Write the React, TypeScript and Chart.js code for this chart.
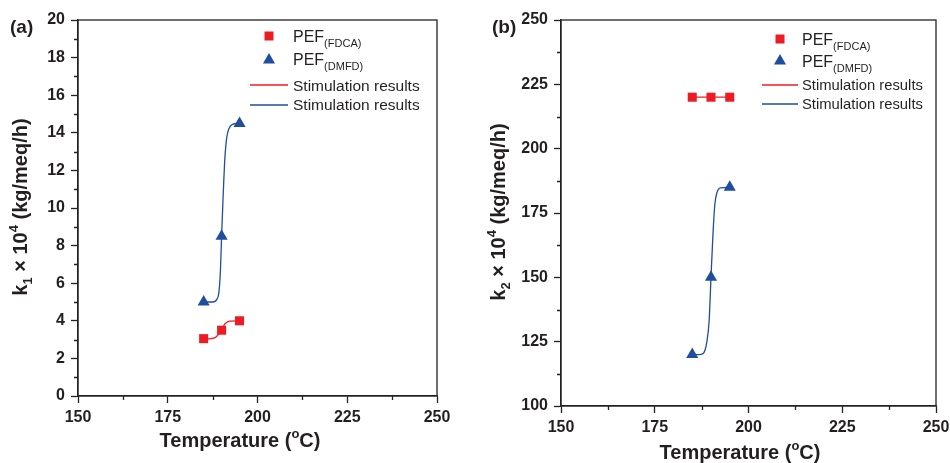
import React, { useEffect, useRef } from 'react';
import { Chart, registerables } from 'chart.js';
Chart.register(...registerables);

// ---------- data ----------
const temperatures = [185, 190, 195];
const k1FDCA = [3.05, 3.5, 4.0];
const k1DMFD = [5.0, 8.5, 14.5];
const k2FDCA = [220, 220, 220];
const k2DMFD = [120, 150, 185];

// simulation curves
const k1FDCASimT = [185, 187, 188.3, 189, 190, 190.6, 191.3, 192.3, 195];
const k1FDCASimV = [3.02, 3.05, 3.12, 3.25, 3.5, 3.75, 3.9, 3.98, 4.0];
const k1DMFDSimT = [185, 187.5, 188.7, 189.3, 189.7, 190, 190.4, 190.9, 191.4, 192, 193, 195];
const k1DMFDSimV = [5.0, 5.0, 5.15, 5.6, 6.8, 8.5, 10.5, 12.6, 13.7, 14.2, 14.45, 14.5];
const k2FDCASimT = [185, 195];
const k2FDCASimV = [220, 220];
const k2DMFDSimT = [185, 187, 188, 188.9, 189.5, 190, 190.5, 191, 191.6, 192.5, 195];
const k2DMFDSimV = [120, 120, 120.5, 125, 133, 150, 166, 178, 183, 184.8, 185];

const xTicks = [150, 175, 200, 225, 250];
const xMinorTicks = [162.5, 187.5, 212.5, 237.5];
const k1Ticks = [0, 2, 4, 6, 8, 10, 12, 14, 16, 18, 20];
const k1MinorTicks = [1, 3, 5, 7, 9, 11, 13, 15, 17, 19];
const k2Ticks = [100, 125, 150, 175, 200, 225, 250];
const k2MinorTicks = [112.5, 137.5, 162.5, 187.5, 212.5, 237.5];

const legendLabels = ['PEF', '(FDCA)', 'PEF', '(DMFD)', 'Stimulation results', 'Stimulation results'];

const RED = '#ED1C24';
const BLUE = '#1F4E9C';
const INK = '#231f20';
const FONT = "'Liberation Sans', Arial, Helvetica, sans-serif";

type Seg = { t: string; size: number; dy?: number; bold?: boolean };

function drawRich(ctx: CanvasRenderingContext2D, segs: Seg[], x: number, y: number, align: 'left' | 'center', defBold: boolean) {
  const font = (s: Seg) => `${(s.bold ?? defBold) ? 'bold ' : ''}${s.size}px ${FONT}`;
  let total = 0;
  for (const s of segs) { ctx.font = font(s); total += ctx.measureText(s.t).width; }
  let cx = align === 'center' ? x - total / 2 : x;
  ctx.textBaseline = 'alphabetic';
  ctx.textAlign = 'left';
  for (const s of segs) {
    ctx.font = font(s);
    ctx.fillText(s.t, cx, y + (s.dy || 0));
    cx += ctx.measureText(s.t).width;
  }
}

type Panel = {
  label: string;
  fdca: number[]; dmfd: number[];
  fSimT: number[]; fSimV: number[]; dSimT: number[]; dSimV: number[];
  yMin: number; yMax: number; yTicks: number[]; yMinor: number[];
  sub: string;
  plotLeft: number; plotRight: number; plotTop: number; plotBottom: number;
  xTitle: { x: number; y: number };
  yTitle: { x: number; y: number };
  panelLabel: { x: number; y: number };
  legend: { mx: number; tx: number; l0: number; l1: number; rows: number[]; base: number[]; pef: number; stim: number };
};

const W = 475, H = 463;

const panels: Panel[] = [
  {
    label: '(a)', fdca: k1FDCA, dmfd: k1DMFD,
    fSimT: k1FDCASimT, fSimV: k1FDCASimV, dSimT: k1DMFDSimT, dSimV: k1DMFDSimV,
    yMin: 0, yMax: 20, yTicks: k1Ticks, yMinor: k1MinorTicks, sub: '1',
    plotLeft: 78, plotRight: 437, plotTop: 20, plotBottom: 396,
    xTitle: { x: 240, y: 447 }, yTitle: { x: 27, y: 207 }, panelLabel: { x: 10, y: 33 },
    legend: { mx: 269, tx: 293, l0: 250, l1: 288, rows: [36, 60, 85, 105], base: [42, 65, 91, 110], pef: 16, stim: 15.5 },
  },
  {
    label: '(b)', fdca: k2FDCA, dmfd: k2DMFD,
    fSimT: k2FDCASimT, fSimV: k2FDCASimV, dSimT: k2DMFDSimT, dSimV: k2DMFDSimV,
    yMin: 100, yMax: 250, yTicks: k2Ticks, yMinor: k2MinorTicks, sub: '2',
    plotLeft: 86, plotRight: 461, plotTop: 20, plotBottom: 406,
    xTitle: { x: 265, y: 459 }, yTitle: { x: 30, y: 212 }, panelLabel: { x: 17, y: 33 },
    legend: { mx: 305, tx: 327, l0: 287, l1: 323, rows: [39, 61, 85, 104], base: [45, 67, 90, 109], pef: 16, stim: 14.8 },
  },
];

function pts(xs: number[], ys: number[]) {
  return xs.map((x, i) => ({ x, y: ys[i] }));
}

function makeConfig(p: Panel): any {
  const decor = {
    id: 'decor',
    afterDraw(chart: any) {
      const ctx: CanvasRenderingContext2D = chart.ctx;
      const a = chart.chartArea;
      const xs = chart.scales.x, ys = chart.scales.y;
      ctx.save();
      ctx.strokeStyle = '#222';
      ctx.lineWidth = 1.3;
      ctx.strokeRect(a.left, a.top, a.right - a.left, a.bottom - a.top);
      // minor ticks
      ctx.beginPath();
      for (const v of xMinorTicks) {
        const px = Math.round(xs.getPixelForValue(v)) + 0.5;
        ctx.moveTo(px, a.bottom); ctx.lineTo(px, a.bottom + 4);
      }
      for (const v of p.yMinor) {
        const py = Math.round(ys.getPixelForValue(v)) + 0.5;
        ctx.moveTo(a.left, py); ctx.lineTo(a.left - 4, py);
      }
      ctx.stroke();

      ctx.fillStyle = INK;
      // panel label
      drawRich(ctx, [{ t: p.label, size: 19 }], p.panelLabel.x, p.panelLabel.y, 'left', true);
      // x title
      drawRich(ctx, [{ t: 'Temperature (', size: 20 }, { t: 'o', size: 13, dy: -9 }, { t: 'C)', size: 20 }], p.xTitle.x, p.xTitle.y, 'center', true);
      // y title
      ctx.save();
      ctx.translate(p.yTitle.x, p.yTitle.y);
      ctx.rotate(-Math.PI / 2);
      drawRich(ctx, [
        { t: 'k', size: 20 }, { t: p.sub, size: 13, dy: 5 },
        { t: ' × 10', size: 20 }, { t: '4', size: 13, dy: -9 },
        { t: ' (kg/meq/h)', size: 20 },
      ], 0, 0, 'center', true);
      ctx.restore();

      // legend
      const L = p.legend;
      ctx.fillStyle = RED;
      const s = 9;
      ctx.fillRect(L.mx - s / 2, L.rows[0] - s / 2, s, s);
      ctx.fillStyle = BLUE;
      const r = 7;
      ctx.beginPath();
      ctx.moveTo(L.mx, L.rows[1] - r);
      ctx.lineTo(L.mx + r * 0.866, L.rows[1] + r * 0.5);
      ctx.lineTo(L.mx - r * 0.866, L.rows[1] + r * 0.5);
      ctx.closePath();
      ctx.fill();
      ctx.lineWidth = 1.3;
      ctx.strokeStyle = RED;
      ctx.beginPath(); ctx.moveTo(L.l0, L.rows[2]); ctx.lineTo(L.l1, L.rows[2]); ctx.stroke();
      ctx.strokeStyle = BLUE;
      ctx.beginPath(); ctx.moveTo(L.l0, L.rows[3]); ctx.lineTo(L.l1, L.rows[3]); ctx.stroke();
      ctx.fillStyle = INK;
      drawRich(ctx, [{ t: legendLabels[0], size: L.pef }, { t: legendLabels[1], size: 11, dy: 5 }], L.tx, L.base[0], 'left', false);
      drawRich(ctx, [{ t: legendLabels[2], size: L.pef }, { t: legendLabels[3], size: 11, dy: 5 }], L.tx, L.base[1], 'left', false);
      drawRich(ctx, [{ t: legendLabels[4], size: L.stim }], L.tx, L.base[2], 'left', false);
      drawRich(ctx, [{ t: legendLabels[5], size: L.stim }], L.tx, L.base[3], 'left', false);
      ctx.restore();
    },
  };

  const tickFont = { family: FONT, size: 16, weight: 'bold' as const };
  return {
    type: 'scatter',
    data: {
      datasets: [
        { label: 'PEF(FDCA)', data: pts(temperatures, p.fdca), pointStyle: 'rect', pointRadius: 6.4, backgroundColor: RED, borderColor: RED, borderWidth: 0, order: 0 },
        { label: 'PEF(DMFD)', data: pts(temperatures, p.dmfd), pointStyle: 'triangle', pointRadius: 7, backgroundColor: BLUE, borderColor: BLUE, borderWidth: 0, order: 0 },
        { label: 'Stimulation results', data: pts(p.fSimT, p.fSimV), showLine: true, pointRadius: 0, borderColor: RED, borderWidth: 1.3, cubicInterpolationMode: 'monotone', order: 1 },
        { label: 'Stimulation results', data: pts(p.dSimT, p.dSimV), showLine: true, pointRadius: 0, borderColor: BLUE, borderWidth: 1.3, cubicInterpolationMode: 'monotone', order: 1 },
      ],
    },
    options: {
      responsive: false,
      animation: false,
      devicePixelRatio: 1,
      layout: { padding: { left: 0, top: p.plotTop, right: W - p.plotRight, bottom: 0 } },
      plugins: { legend: { display: false }, tooltip: { enabled: false } },
      scales: {
        x: {
          type: 'linear', min: 150, max: 250,
          afterBuildTicks: (axis: any) => { axis.ticks = xTicks.map((v) => ({ value: v })); },
          afterFit: (axis: any) => { axis.height = H - p.plotBottom; axis.paddingLeft = 0; axis.paddingRight = 0; },
          grid: { display: true, drawOnChartArea: false, drawTicks: true, tickLength: 7, tickColor: '#222', tickWidth: 1.3 },
          border: { display: true, color: '#222', width: 1.3 },
          ticks: { font: tickFont, color: INK, padding: 5, maxRotation: 0, autoSkip: false },
        },
        y: {
          type: 'linear', min: p.yMin, max: p.yMax,
          afterBuildTicks: (axis: any) => { axis.ticks = p.yTicks.map((v) => ({ value: v })); },
          afterFit: (axis: any) => { axis.width = p.plotLeft; axis.paddingTop = 0; axis.paddingBottom = 0; },
          grid: { display: true, drawOnChartArea: false, drawTicks: true, tickLength: 7, tickColor: '#222', tickWidth: 1.3 },
          border: { display: true, color: '#222', width: 1.3 },
          ticks: { font: tickFont, color: INK, padding: 6, autoSkip: false },
        },
      },
    },
    plugins: [decor],
  };
}

function Panel({ p }: { p: Panel }) {
  const ref = useRef<HTMLCanvasElement>(null);
  useEffect(() => {
    if (!ref.current) return;
    const chart = new Chart(ref.current, makeConfig(p));
    return () => chart.destroy();
  }, [p]);
  return <canvas ref={ref} width={W} height={H} style={{ width: W, height: H, display: 'block' }} />;
}

export default function App() {
  return (
    <div style={{ position: 'fixed', left: 0, top: 0, width: 950, height: 463, background: '#fff', display: 'flex' }}>
      <Panel p={panels[0]} />
      <Panel p={panels[1]} />
    </div>
  );
}
